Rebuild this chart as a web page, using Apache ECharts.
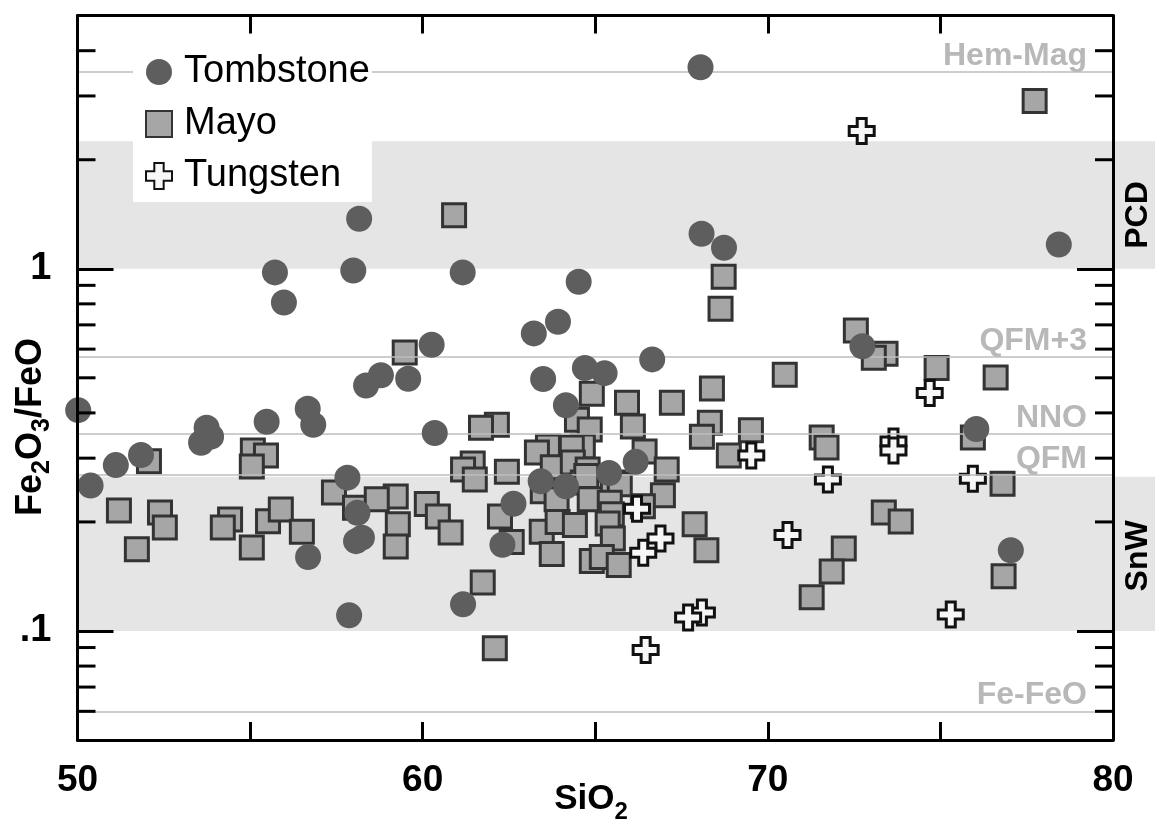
<!DOCTYPE html>
<html><head><meta charset="utf-8">
<script src="https://cdn.jsdelivr.net/npm/echarts@6/dist/echarts.min.js"></script>
<style>html,body{margin:0;padding:0;background:#fff}#c{width:1155px;height:819px}</style>
</head><body><div id="c"></div>
<script>
// ---- data (SiO2 wt%, Fe2O3/FeO) ----
const tombstone = [
 [68.05,3.60],[78.43,1.167],[58.16,1.374],[68.08,1.249],[68.73,1.143],
 [55.72,0.977],[57.99,0.989],[61.16,0.977],[55.98,0.807],[64.52,0.921],
 [63.92,0.714],[63.22,0.663],[60.26,0.617],[66.65,0.562],[63.49,0.496],
 [64.70,0.532],[65.27,0.515],[64.15,0.420],[60.35,0.352],[66.17,0.293],
 [65.40,0.273],[63.42,0.259],[64.15,0.251],[62.63,0.2245],[62.31,0.173],
 [61.17,0.1185],[57.87,0.1105],[56.68,0.160],[58.07,0.177],[58.24,0.181],
 [58.11,0.212],[57.82,0.265],[50.02,0.407],[50.38,0.252],[51.11,0.287],
 [51.84,0.306],[53.58,0.331],[53.74,0.364],[53.87,0.344],[55.48,0.378],
 [56.67,0.411],[56.83,0.371],[58.36,0.476],[58.79,0.508],[59.58,0.497],
 [72.74,0.611],[76.04,0.361],[77.04,0.167]
];
const mayo = [
 [77.73,2.905],[60.91,1.406],[68.72,0.951],[68.63,0.776],[59.48,0.587],
 [72.55,0.675],[73.41,0.583],[73.07,0.568],[74.89,0.532],[76.60,0.501],
 [70.49,0.510],[68.38,0.467],[68.32,0.376],[68.09,0.344],[69.51,0.358],
 [68.87,0.305],[67.22,0.427],[65.92,0.427],[66.09,0.367],[64.90,0.452],
 [64.47,0.383],[64.84,0.360],[64.64,0.323],[64.32,0.321],[63.63,0.323],
 [63.31,0.311],[66.43,0.313],[67.07,0.279],[66.96,0.237],[67.88,0.197],
 [68.22,0.167],[62.15,0.371],[61.69,0.364],[61.45,0.290],[61.17,0.279],
 [61.51,0.262],[62.44,0.275],[63.77,0.283],[64.35,0.292],[64.78,0.279],
 [64.64,0.257],[63.48,0.243],[63.88,0.231],[64.84,0.231],[65.51,0.257],
 [65.71,0.254],[65.42,0.226],[65.48,0.210],[62.24,0.207],[62.58,0.176],
 [63.45,0.188],[63.91,0.200],[64.41,0.196],[65.36,0.198],[65.51,0.180],
 [63.74,0.163],[64.90,0.156],[65.19,0.160],[65.68,0.152],[61.74,0.136],
 [62.09,0.0896],[59.22,0.235],[59.28,0.197],[59.22,0.171],[60.12,0.224],
 [60.44,0.207],[60.81,0.187],[66.38,0.221],[52.07,0.294],[51.20,0.215],
 [52.39,0.2125],[52.53,0.193],[51.72,0.168],[54.42,0.203],[54.21,0.193],
 [55.52,0.201],[55.89,0.2165],[56.50,0.188],[55.05,0.170],[55.08,0.315],
 [55.46,0.305],[55.05,0.2845],[57.43,0.241],[58.04,0.219],[58.67,0.231],
 [76.83,0.1415],[71.56,0.342],[71.70,0.321],[75.94,0.342],[76.80,0.255],
 [73.36,0.2125],[73.85,0.2006],[72.20,0.169],[71.85,0.146],[71.27,0.124],
 [64.74,0.268]
];
const tungsten = [
 [72.72,2.402],[74.69,0.454],[73.64,0.3335],[73.64,0.315],[71.74,0.262],
 [75.94,0.263],[69.52,0.305],[70.57,0.184],[75.30,0.111],[66.21,0.2175],
 [66.89,0.180],[66.39,0.1644],[68.09,0.1124],[67.69,0.1089],[66.46,0.0886]
];
const seriesNames = ['Tombstone','Mayo','Tungsten'];
const refLineNames = ['Hem-Mag','QFM+3','NNO','QFM','Fe-FeO'];
const refLineValues = [3.49, 0.573, 0.349, 0.2665, 0.0605];
const bandNames = ['PCD','SnW'];
const bandLow = [1, 0.1];
const bandHigh = [2.25, 0.2665];
const xTickLabels = [50, 60, 70, 80];
const yTickValues = [1, 0.1];
const yTickTexts = ['1', '.1'];
const minorTickValues = [0.06,0.07,0.08,0.09,0.2,0.3,0.4,0.5,0.6,0.7,0.8,0.9,2,3,4];

// ---- chart ----
const FONT = '"Liberation Sans", Arial, Helvetica, sans-serif';
const plusPath = 'path://M32,0H68V32H100V68H68V100H32V68H0V32H32Z';
const chart = echarts.init(document.getElementById('c'), null, {renderer:'canvas'});

const axisLineStyle = {color:'#000', width:3};
function yFmt(v){
  for (let i=0;i<yTickValues.length;i++) if (Math.abs(v-yTickValues[i])<1e-9) return yTickTexts[i];
  return '';
}
const option = {
  backgroundColor:'#fff',
  animation:false,
  grid:{left:77.5, right:42, top:15.6, bottom:79},
  xAxis:[
    {type:'value', min:50, max:80, interval:5, position:'bottom', z:10,
     axisLine:{show:true, onZero:false, lineStyle:axisLineStyle},
     axisTick:{show:true, inside:true, length:18, lineStyle:{color:'#000', width:3}},
     axisLabel:{show:true, margin:22, fontSize:37, fontWeight:'bold', color:'#000', fontFamily:FONT,
       showMinLabel:true, showMaxLabel:true,
       formatter:v => xTickLabels.indexOf(v) >= 0 ? String(v) : ''},
     splitLine:{show:false}},
    {type:'value', min:50, max:80, interval:5, position:'top', z:10,
     axisLine:{show:true, onZero:false, lineStyle:axisLineStyle},
     axisTick:{show:true, inside:true, length:18, lineStyle:{color:'#000', width:3}},
     axisLabel:{show:false}, splitLine:{show:false}}
  ],
  yAxis:[
    {type:'log', logBase:10, min:0.05, max:5, position:'left', z:10,
     axisLine:{show:true, onZero:false, lineStyle:axisLineStyle},
     axisTick:{show:true, inside:true, length:36, lineStyle:{color:'#000', width:3}},
     axisLabel:{show:true, margin:26, fontSize:38, fontWeight:'bold', color:'#000', fontFamily:FONT, formatter:yFmt},
     splitLine:{show:false}, minorTick:{show:false}},
    {type:'log', logBase:10, min:0.05, max:5, position:'right', z:10,
     axisLine:{show:true, onZero:false, lineStyle:axisLineStyle},
     axisTick:{show:true, inside:true, length:36, lineStyle:{color:'#000', width:3}},
     axisLabel:{show:false}, splitLine:{show:false}}
  ],
  legend:{
    data:seriesNames, orient:'vertical', left:133, top:43, backgroundColor:'#fff', z:20,
    padding:[10,2,7,12], itemWidth:26, itemHeight:26, itemGap:14, selectedMode:false,
    textStyle:{fontSize:38, fontFamily:FONT, color:'#000', lineHeight:38, padding:[0,0,0,7]}
  },
  series:[
    {type:'scatter', name:'refs', data:[], z:1, silent:true,
     markLine:{silent:true, symbol:'none', animation:false,
       lineStyle:{color:'#bdbdbd', width:1.5, type:'solid'},
       label:{show:true, position:'insideEndTop', formatter:'{b}', color:'#b8b8b8', fontSize:32,
              fontWeight:'bold', fontFamily:FONT, distance:[26,0]},
       emphasis:{disabled:true},
       data:refLineNames.map((n,i)=>({name:n, yAxis:refLineValues[i]}))}},
    {type:'scatter', name:'Mayo', data:mayo, symbol:'rect', symbolSize:23, z:3,
     itemStyle:{color:'#a6a6a6', borderColor:'#333', borderWidth:3, opacity:1}},
    {type:'scatter', name:'Tungsten', data:tungsten, symbol:plusPath, symbolSize:25, z:4,
     itemStyle:{color:'#f7f7f7', borderColor:'#111', borderWidth:3, opacity:1}},
    {type:'scatter', name:'Tombstone', data:tombstone, symbol:'circle', symbolSize:26, z:5,
     itemStyle:{color:'#5e5e5e', opacity:1}},
    {type:'custom', name:'minorTicks', z:11, silent:true, clip:false,
     data:minorTickValues.map(v=>[50, v]), encode:{x:0, y:1},
     renderItem:(params, api) => {
       const v = api.value(1);
       const pl = api.coord([50, v]);
       const pr = api.coord([80, v]);
       return {type:'group', children:[
         {type:'line', shape:{x1:pl[0], y1:pl[1], x2:pl[0]+18, y2:pl[1]}, style:{stroke:'#000', lineWidth:3}},
         {type:'line', shape:{x1:pr[0]-18, y1:pr[1], x2:pr[0], y2:pr[1]}, style:{stroke:'#000', lineWidth:3}}
       ]};
     }}
  ]
};
chart.setOption(option);

// ---- decorations computed from the axes ----
const mctx = document.createElement('canvas').getContext('2d');
function tw(t, size){ mctx.font = 'bold ' + size + 'px ' + FONT; return mctx.measureText(t).width; }
function subText(parts, size, subSize, subDy){
  let total = 0;
  parts.forEach(p => { p.w = tw(p.t, p.sub ? subSize : size); total += p.w; });
  let x = -total/2; const children = [];
  parts.forEach(p => {
    children.push({type:'text', x:x, y:p.sub ? subDy : 0,
      style:{text:p.t, font:'bold ' + (p.sub ? subSize : size) + 'px ' + FONT, fill:'#000',
             textAlign:'left', textVerticalAlign:'middle', align:'left', verticalAlign:'middle'}});
    x += p.w;
  });
  return children;
}
const W = chart.getWidth();
const g = [];
bandNames.forEach((name, i) => {
  const top = chart.convertToPixel({gridIndex:0}, [50, bandHigh[i]]);
  const bot = chart.convertToPixel({gridIndex:0}, [50, bandLow[i]]);
  g.push({type:'rect', z:-10, silent:true,
    shape:{x:top[0], y:top[1], width:W - top[0], height:bot[1] - top[1]},
    style:{fill:'#e5e5e5'}});
  g.push({type:'text', x:1138, y:(top[1] + bot[1]) / 2 + (i === 0 ? 10 : 2), rotation:Math.PI/2, z:5,
    style:{text:name, font:'bold 32px ' + FONT, fill:'#000',
           textAlign:'center', textVerticalAlign:'middle', align:'center', verticalAlign:'middle'}});
});
g.push({type:'group', x:31, y:427, rotation:Math.PI/2, children:subText([
  {t:'Fe'},{t:'2',sub:true},{t:'O'},{t:'3',sub:true},{t:'/FeO'}], 36, 25, 11)});
g.push({type:'group', x:591, y:799, children:subText([
  {t:'SiO'},{t:'2',sub:true}], 35, 24, 13)});
chart.setOption({graphic:g});
</script>
</body></html>
